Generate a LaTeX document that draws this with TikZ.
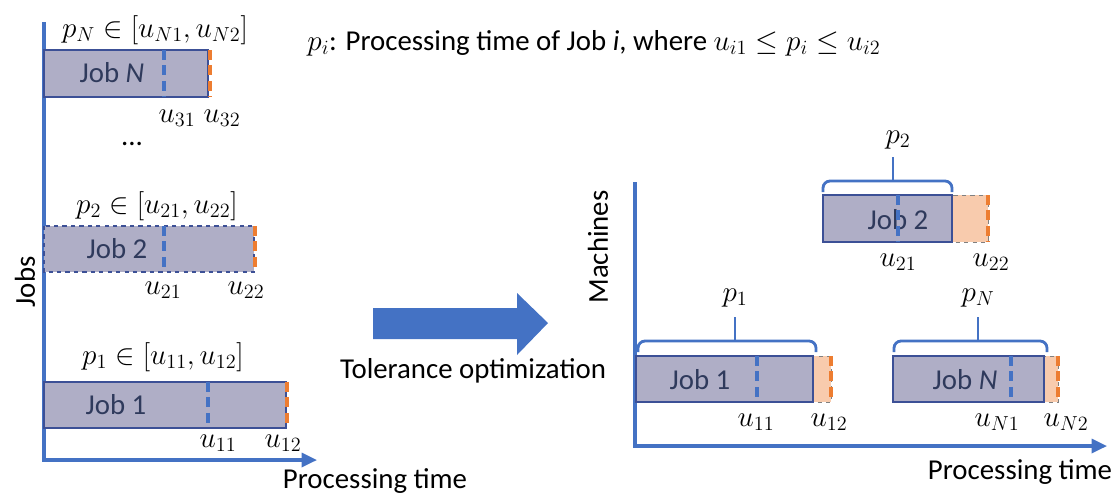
\documentclass[tikz,border=0pt]{standalone}
\usepackage{fontspec}
\setmainfont{Carlito}
\usetikzlibrary{arrows.meta, positioning}

\definecolor{axisblue}{RGB}{68,114,196}
\definecolor{boxfill}{RGB}{175,174,198}
\definecolor{boxline}{RGB}{60,80,150}
\definecolor{jobtext}{RGB}{47,58,92}
\definecolor{tolorange}{RGB}{237,125,49}
\definecolor{tolfill}{RGB}{248,203,173}

\begin{document}
\begin{tikzpicture}[x=0.025cm, y=-0.025cm,
  every node/.style={font=\fontsize{20.5}{24}\selectfont, inner sep=0pt},
  axis/.style={axisblue, line width=2.2pt, -{Triangle[length=11pt,width=10pt]}},
  jobbox/.style={draw=boxline, fill=boxfill, line width=0.8pt},
  tolbox/.style={draw=gray, fill=tolfill, dashed, line width=0.6pt},
  lowerdash/.style={draw=axisblue, line width=2.6pt, dash pattern=on 7pt off 4pt},
  upperdash/.style={draw=tolorange, line width=2.6pt, dash pattern=on 7pt off 4pt},
  brc/.style={axisblue, line width=2pt, rounded corners=5pt},
  jobtxt/.style={text=jobtext}]

  \useasboundingbox (0,0) rectangle (1116,496);

  % left panel: jobs with their tolerance intervals
  \draw[axis] (44,22) -- (44,460) -- (317,460);
  \node[rotate=90] (jobs) at (25,282) {Jobs};
  \node (timeL) at (375,481) {Processing time};

  \path[jobbox] (44,50) rectangle (208,97);
  \node[jobtxt] (jN) at (112,73) {Job \textit{N}};
  \path[lowerdash] (164,50) -- (164,97);
  \path[upperdash] (210,50) -- (210,97);
  \node (intN) at (155,30) {$p_N \in [u_{N1}, u_{N2}]$};
  \node (u31) at (177,118) {$u_{31}$};
  \node (u32) at (222,118) {$u_{32}$};
  \node (dots) at (132,144) {...};

  \path[jobbox, dashed] (44,226) rectangle (254,272);
  \node[jobtxt] (j2) at (117,249) {Job 2};
  \path[lowerdash] (164,226) -- (164,272);
  \path[upperdash] (255,226) -- (255,272);
  \node (int2) at (157,206) {$p_2 \in [u_{21}, u_{22}]$};
  \node (u21) at (163,290) {$u_{21}$};
  \node (u22) at (246,290) {$u_{22}$};

  \path[jobbox] (44,382) rectangle (286,428);
  \node[jobtxt] (j1) at (116,405) {Job 1};
  \path[lowerdash] (208,382) -- (208,428);
  \path[upperdash] (287,382) -- (287,428);
  \node (int1) at (163,357) {$p_1 \in [u_{11}, u_{12}]$};
  \node (u11) at (218,443) {$u_{11}$};
  \node (u12) at (283,443) {$u_{12}$};

  % middle: the optimisation step
  \fill[axisblue] (373,308) -- (517,308) -- (517,293) -- (548,323)
    -- (517,355) -- (517,339) -- (373,339) -- cycle;
  \node (tol) at (473,371) {Tolerance optimization};

  \node (legend) at (594,43) {$p_i$: Processing time of Job \textit{i}, where $u_{i1} \le p_i \le u_{i2}$};

  % right panel: schedule on machines
  \draw[axis] (635,182) -- (635,446) -- (1107,446);
  \node[rotate=90] (mach) at (598,247) {Machines};
  \node (timeR) at (1020,472) {Processing time};

  \path[tolbox] (813,356) rectangle (831,402);
  \path[jobbox] (636,356) rectangle (813,402);
  \node[jobtxt] (m1) at (700,380) {Job 1};
  \path[lowerdash] (757,356) -- (757,402);
  \path[upperdash] (831,356) -- (831,402);
  \node (mu11) at (756,422) {$u_{11}$};
  \node (mu12) at (829,422) {$u_{12}$};

  \path[tolbox] (1044,356) rectangle (1058,402);
  \path[jobbox] (893,356) rectangle (1044,402);
  \node[jobtxt] (mN) at (965,380) {Job \textit{N}};
  \path[lowerdash] (1011,356) -- (1011,402);
  \path[upperdash] (1058,356) -- (1058,402);
  \node (muN1) at (997,422) {$u_{N1}$};
  \node (muN2) at (1066,422) {$u_{N2}$};

  \path[tolbox] (952,195) rectangle (988,242);
  \path[jobbox] (823,195) rectangle (952,242);
  \node[jobtxt] (m2) at (898,220) {Job 2};
  \path[lowerdash] (898,195) -- (898,242);
  \path[upperdash] (988,195) -- (988,242);
  \node (mu21) at (898,262) {$u_{21}$};
  \node (mu22) at (991,262) {$u_{22}$};

  % braces over the chosen processing times
  \foreach \a/\b/\c/\y in {638/816/735/341, 894/1047/978/341, 823/952/893/181}{
    \draw[brc] (\a,\y+11) -- (\a,\y) -- (\b,\y) -- (\b,\y+11);
    \draw[brc] (\c,\y) -- (\c,\y-24);
  }
  \node (p1) at (735,298) {$p_1$};
  \node (pN) at (978,298) {$p_N$};
  \node (p2) at (898,140) {$p_2$};
\end{tikzpicture}
\end{document}
